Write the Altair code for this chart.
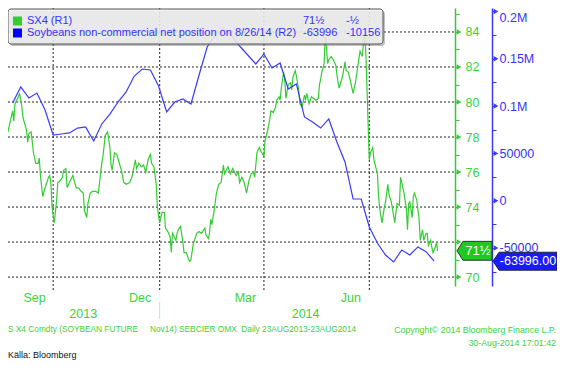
import altair as alt
import pandas as pd

# ---------------- data ----------------
green_dates = [
    "2013-08-23", "2013-08-27", "2013-08-28", "2013-08-29", "2013-09-01", "2013-09-02", "2013-09-04", "2013-09-05",
    "2013-09-08", "2013-09-09", "2013-09-10", "2013-09-12", "2013-09-14", "2013-09-16", "2013-09-18", "2013-09-19",
    "2013-09-20", "2013-09-22", "2013-09-24", "2013-09-27", "2013-09-28", "2013-09-29", "2013-09-30", "2013-10-02",
    "2013-10-04", "2013-10-05", "2013-10-07", "2013-10-09", "2013-10-10", "2013-10-12", "2013-10-13", "2013-10-15",
    "2013-10-18", "2013-10-20", "2013-10-21", "2013-10-23", "2013-10-25", "2013-10-27", "2013-10-28", "2013-10-30",
    "2013-10-31", "2013-11-02", "2013-11-04", "2013-11-07", "2013-11-09", "2013-11-12", "2013-11-13", "2013-11-15",
    "2013-11-17", "2013-11-19", "2013-11-20", "2013-11-21", "2013-11-23", "2013-11-25", "2013-11-28", "2013-11-29",
    "2013-12-01", "2013-12-03", "2013-12-06", "2013-12-08", "2013-12-11", "2013-12-12", "2013-12-14", "2013-12-16",
    "2013-12-18", "2013-12-20", "2013-12-22", "2013-12-24", "2013-12-25", "2013-12-27", "2013-12-29", "2013-12-30",
    "2014-01-01", "2014-01-03", "2014-01-05", "2014-01-06", "2014-01-08", "2014-01-10", "2014-01-11", "2014-01-12",
    "2014-01-15", "2014-01-16", "2014-01-17", "2014-01-19", "2014-01-21", "2014-01-22", "2014-01-24", "2014-01-26",
    "2014-01-27", "2014-01-28", "2014-01-30", "2014-02-01", "2014-02-02", "2014-02-04", "2014-02-06", "2014-02-09",
    "2014-02-10", "2014-02-12", "2014-02-13", "2014-02-14", "2014-02-15", "2014-02-17", "2014-02-19", "2014-02-21",
    "2014-02-23", "2014-02-25", "2014-02-26", "2014-03-01", "2014-03-03", "2014-03-05", "2014-03-08", "2014-03-10",
    "2014-03-11", "2014-03-13", "2014-03-15", "2014-03-17", "2014-03-19", "2014-03-21", "2014-03-23", "2014-03-24",
    "2014-03-26", "2014-03-28", "2014-03-30", "2014-04-01", "2014-04-02", "2014-04-04", "2014-04-06", "2014-04-07",
    "2014-04-09", "2014-04-11", "2014-04-12", "2014-04-14", "2014-04-15", "2014-04-16", "2014-04-18", "2014-04-19",
    "2014-04-20", "2014-04-22", "2014-04-24", "2014-04-25", "2014-04-26", "2014-04-28", "2014-04-29", "2014-04-30",
    "2014-05-01", "2014-05-02", "2014-05-04", "2014-05-06", "2014-05-07", "2014-05-08", "2014-05-10", "2014-05-12",
    "2014-05-14", "2014-05-16", "2014-05-18", "2014-05-19", "2014-05-20", "2014-05-21", "2014-05-23", "2014-05-24",
    "2014-05-26", "2014-05-27", "2014-05-29", "2014-05-31", "2014-06-02", "2014-06-04", "2014-06-05", "2014-06-08",
    "2014-06-10", "2014-06-11", "2014-06-13", "2014-06-15", "2014-06-17", "2014-06-19", "2014-06-21", "2014-06-23",
    "2014-06-25", "2014-06-26", "2014-06-27", "2014-06-28", "2014-07-01", "2014-07-02", "2014-07-04", "2014-07-05",
    "2014-07-08", "2014-07-09", "2014-07-10", "2014-07-12", "2014-07-14", "2014-07-15", "2014-07-17", "2014-07-18",
    "2014-07-20", "2014-07-23", "2014-07-24", "2014-07-25", "2014-07-27", "2014-07-28", "2014-07-29", "2014-07-31",
    "2014-08-02", "2014-08-03", "2014-08-04", "2014-08-05", "2014-08-07", "2014-08-08", "2014-08-09", "2014-08-11",
    "2014-08-13", "2014-08-14", "2014-08-16", "2014-08-17", "2014-08-19", "2014-08-20", "2014-08-21", "2014-08-23",
    "2014-08-24", "2014-08-25", "2014-08-27", "2014-08-28", "2014-08-29",
]
green_values = [
    78.3, 79.5, 78.9, 79.9, 80.3, 80.5, 79.7, 79.1,
    78.4, 77.7, 78.2, 78.3, 77.1, 76.5, 76.5, 76.8,
    75.8, 74.6, 75.1, 75.7, 75.8, 75.4, 74.0, 73.1,
    74.4, 75.4, 75.5, 75.7, 76.1, 76.2, 75.1, 75.4,
    75.8, 75.3, 75.1, 75.1, 74.9, 74.8, 73.8, 73.4,
    74.2, 74.8, 74.9, 74.9, 74.8, 76.5, 76.9, 78.1,
    78.3, 77.4, 76.4, 76.1, 77.1, 77.0, 76.3, 76.1,
    75.4, 75.3, 75.4, 75.7, 76.7, 76.2, 76.5, 76.3,
    76.4, 76.0, 76.7, 77.0, 76.5, 76.3, 75.3, 74.0,
    73.1, 73.7, 73.7, 72.8, 72.6, 72.3, 71.4, 72.5,
    72.1, 72.5, 72.7, 72.9, 72.0, 71.4, 71.4, 71.0,
    70.9, 71.0, 71.9, 72.3, 72.5, 72.6, 72.5, 72.8,
    72.4, 72.2, 72.5, 73.3, 73.0, 73.8, 74.8, 75.3,
    75.4, 76.4, 75.9, 76.3, 75.9, 76.2, 75.8, 76.0,
    75.4, 75.7, 75.4, 74.8, 75.5, 75.9, 76.0, 75.7,
    77.1, 77.4, 77.1, 76.9, 77.8, 78.3, 79.0, 79.5,
    79.4, 79.7, 80.1, 80.3, 80.1, 80.8, 81.7, 81.3,
    80.2, 81.0, 81.1, 80.7, 81.4, 81.8, 81.5, 81.1,
    80.7, 79.9, 79.7, 80.4, 80.1, 80.5, 79.9, 80.3,
    80.2, 80.1, 80.2, 81.0, 81.3, 81.7, 82.2, 84.0,
    82.2, 82.4, 82.6, 82.4, 82.1, 81.1, 80.8, 81.5,
    82.3, 81.8, 81.7, 81.1, 80.5, 81.1, 82.0, 82.9,
    82.6, 83.4, 83.9, 82.8, 76.7, 77.1, 77.4, 76.7,
    75.9, 74.6, 73.9, 73.1, 74.0, 74.3, 75.3, 74.7,
    74.3, 73.1, 73.7, 74.2, 74.1, 75.7, 75.4, 74.8,
    73.9, 72.7, 74.2, 74.3, 73.4, 74.6, 74.8, 74.4,
    73.3, 72.1, 72.7, 72.1, 72.5, 72.5, 71.8, 72.1,
    71.7, 71.4, 71.7, 72.0, 71.5,
]

blue_values = [
    103300, 120200, 108600, 113800, 95900, 69400, 70500, 71600, 76800, 77900,
    63100, 81100, 91600, 104300, 114900, 131800, 139200, 138200, 121200, 93800,
    104300, 107500, 102200, 132900, 162500, 175100, 182500, 174100, 163500, 154000,
    144500, 155100, 140300, 145600, 118100, 123400, 88500, 83200, 76800, 86400,
    62000, 40900, 1800, 1800, -27800, -44700, -57400, -64800, -52100, -57400,
    -48900, -53840, -63996,
]
# weekly CFTC report dates (Tuesdays), last one 8/26/14
blue_dates = pd.date_range(end="2014-08-26", periods=len(blue_values), freq="7D")

green_grid_values = [70, 72, 74, 76, 78, 80, 82, 84]
green_tick_values = list(range(70, 86))
blue_label_values = [-50000, 0, 50000, 100000, 150000, 200000]
blue_tick_values = list(range(-75000, 200001, 25000))
quarter_dates = ["2013-10-01", "2014-01-01", "2014-04-01", "2014-07-01"]
month_tick_dates = ["2013-09-01", "2013-10-01", "2013-11-01", "2013-12-01", "2014-01-01", "2014-02-01",
                    "2014-03-01", "2014-04-01", "2014-05-01", "2014-06-01", "2014-07-01", "2014-08-01",
                    "2014-09-01"]
month_label_dates = ["2013-09-15", "2013-12-15", "2014-03-16", "2014-06-15"]
month_labels = ["Sep", "Dec", "Mar", "Jun"]
year_label_dates = ["2013-10-27", "2014-05-07"]
year_labels = ["2013", "2014"]

legend_labels = ["SX4 (R1)", "Soybeans non-commercial net position on 8/26/14 (R2)"]
legend_last = ["71½", "-63996"]
legend_change = ["-½", "-10156"]
green_last_label = "71½"
blue_last_label = "-63996.00"

footer_left_a = "S X4 Comdty (SOYBEAN FUTURE"
footer_left_b = "Nov14) SEBCIER OMX\u00a0\u00a0Daily 23AUG2013-23AUG2014"
footer_right1 = "Copyright© 2014 Bloomberg Finance L.P."
footer_right2 = "30-Aug-2014 17:01:42"
source_text = "Källa: Bloomberg"

# ---------------- styling ----------------
GREEN = "#33cc33"
GREEN_TXT = "#3ad23a"
BLUE = "#3a3aff"
BLUE_TXT = "#3333ff"
FONT = "Liberation Sans"
W, H = 447, 278

def dt(s):
    y, m, d = (int(p) for p in s.split("-"))
    return alt.DateTime(year=y, month=m, date=d)

xscale = alt.Scale(domain=[dt("2013-08-23"), dt("2014-09-13")])
gscale = alt.Scale(domain=[69.49, 85.37], nice=False, zero=False)
bscale = alt.Scale(domain=[-90200, 203700], nice=False, zero=False)

green_df = pd.DataFrame({"date": pd.to_datetime(green_dates), "v": green_values})
blue_df = pd.DataFrame({"date": blue_dates, "v": blue_values})

hgrid = alt.Chart(pd.DataFrame({"g": green_grid_values})).mark_rule(
    color="#222", strokeDash=[2, 2], strokeWidth=1
).encode(y=alt.Y("g:Q", scale=gscale, axis=None), x=alt.value(0), x2=alt.value(W))

vgrid = alt.Chart(pd.DataFrame({"d": pd.to_datetime(quarter_dates)})).mark_rule(
    color="#222", strokeDash=[2, 2], strokeWidth=1
).encode(x=alt.X("d:T", scale=xscale, axis=None), y=alt.value(0), y2=alt.value(H + 4))

green_line = alt.Chart(green_df).mark_line(color=GREEN, strokeWidth=1.2).encode(
    x=alt.X("date:T", scale=xscale, title=None,
            axis=alt.Axis(values=[dt(s) for s in month_tick_dates], labels=False, tickSize=4,
                          tickColor=GREEN, domainColor=GREEN, grid=False, domainWidth=1.5)),
    y=alt.Y("v:Q", scale=gscale, title=None,
            axis=alt.Axis(orient="right", values=green_tick_values,
                          labelExpr="(datum.value % 2 == 0 && datum.value != 72) ? datum.label : ''",
                          tickSize=4, tickColor=GREEN, domainColor=GREEN, domainWidth=1.5,
                          labelColor=GREEN_TXT, labelFont=FONT, labelFontSize=12.5, labelPadding=6,
                          grid=False)),
)

blue_line = alt.Chart(blue_df).mark_line(color=BLUE, strokeWidth=1.2).encode(
    x=alt.X("date:T", scale=xscale, axis=None),
    y=alt.Y("v:Q", scale=bscale, title=None,
            axis=alt.Axis(orient="right", offset=37, values=blue_tick_values,
                          labelExpr="datum.value % 50000 != 0 ? '' : (datum.value >= 100000 ? format(datum.value/1000000, '.2~f') + 'M' : '' + datum.value)",
                          tickSize=4, tickColor=BLUE, domainColor=BLUE, domainWidth=1.5,
                          labelColor=BLUE_TXT, labelFont=FONT, labelFontSize=12.5, labelPadding=3,
                          labelFlush=10, labelFlushOffset=0,
                          grid=False)),
)

g_tri = alt.Chart(pd.DataFrame({"g": green_grid_values})).mark_point(
    shape="triangle-right", filled=True, size=30, color=GREEN, opacity=1
).encode(y=alt.Y("g:Q", scale=gscale, axis=None), x=alt.value(W + 4))

b_tri = alt.Chart(pd.DataFrame({"b": blue_label_values})).mark_point(
    shape="triangle-right", filled=True, size=30, color=BLUE, opacity=1
).encode(y=alt.Y("b:Q", scale=bscale, axis=None), x=alt.value(W + 41))

g_tag_shape = "M-1,0 L-0.66,-0.54 L1,-0.54 L1,0.54 L-0.66,0.54 Z"
b_tag_shape = "M-1,0 L-0.81,-0.28 L1,-0.28 L1,0.28 L-0.81,0.28 Z"

g_tag = alt.Chart(pd.DataFrame({"v": [green_values[-1]], "t": [green_last_label]}))
g_tag_box = g_tag.mark_point(shape=g_tag_shape, size=1225, filled=True, fill="#22c822",
                             stroke="#333", strokeWidth=1, opacity=1).encode(
    y=alt.Y("v:Q", scale=gscale, axis=None), x=alt.value(W + 19.5))
g_tag_txt = g_tag.mark_text(color="white", font=FONT, fontSize=13, align="center", baseline="middle").encode(
    y=alt.Y("v:Q", scale=gscale, axis=None), x=alt.value(W + 23), text="t:N")

b_tag = alt.Chart(pd.DataFrame({"v": [blue_values[-1]], "t": [blue_last_label]}))
b_tag_box = b_tag.mark_point(shape=b_tag_shape, size=4096, filled=True, fill="#1a1aff",
                             stroke="#222", strokeWidth=1, opacity=1).encode(
    y=alt.Y("v:Q", scale=bscale, axis=None), x=alt.value(W + 70))
b_tag_txt = b_tag.mark_text(color="white", font=FONT, fontSize=12.5, align="center", baseline="middle").encode(
    y=alt.Y("v:Q", scale=bscale, axis=None), x=alt.value(W + 73), text="t:N")

# legend box
leg_one = alt.Chart(pd.DataFrame({"t": [legend_labels[0]]}))
leg_shadow = leg_one.mark_rect(fill="#777", opacity=0.45, cornerRadius=3).encode(
    x=alt.value(2), x2=alt.value(377), y=alt.value(3), y2=alt.value(38))
leg_box = leg_one.mark_rect(fill="#f0f0f0", fillOpacity=0.85, stroke="#555", strokeWidth=1,
                            cornerRadius=3).encode(
    x=alt.value(0), x2=alt.value(375), y=alt.value(1), y2=alt.value(36))

leg_df = pd.DataFrame({"row": [0, 1], "label": legend_labels, "color": [GREEN, "#0000ff"],
                       "last": legend_last, "chg": legend_change})
rowscale = alt.Scale(domain=[0, 1], range=[13, 25])
leg_base = alt.Chart(leg_df)
leg_sq = leg_base.mark_square(size=81, opacity=1, filled=True).encode(
    x=alt.value(9.5), y=alt.Y("row:Q", scale=rowscale, axis=None), color=alt.Color("color:N", scale=None))
leg_txt = leg_base.mark_text(align="left", baseline="middle", font=FONT, fontSize=11, color=BLUE_TXT).encode(
    x=alt.value(19), y=alt.Y("row:Q", scale=rowscale, axis=None), text="label:N")
leg_last = leg_base.mark_text(align="left", baseline="middle", font=FONT, fontSize=11, color=BLUE_TXT).encode(
    x=alt.value(295), y=alt.Y("row:Q", scale=rowscale, axis=None), text="last:N")
leg_chg = leg_base.mark_text(align="left", baseline="middle", font=FONT, fontSize=11, color=BLUE_TXT).encode(
    x=alt.value(338), y=alt.Y("row:Q", scale=rowscale, axis=None), text="chg:N")

# bottom labels
months = alt.Chart(pd.DataFrame({"d": pd.to_datetime(month_label_dates), "t": month_labels})).mark_text(
    font=FONT, fontSize=12.5, color=GREEN_TXT, baseline="middle").encode(
    x=alt.X("d:T", scale=xscale, axis=None), y=alt.value(290), text="t:N")
years = alt.Chart(pd.DataFrame({"d": pd.to_datetime(year_label_dates), "t": year_labels})).mark_text(
    font=FONT, fontSize=12.5, color=GREEN_TXT, baseline="middle").encode(
    x=alt.X("d:T", scale=xscale, axis=None), y=alt.value(306), text="t:N")
year_sep = alt.Chart(pd.DataFrame({"d": pd.to_datetime(["2014-01-01"])})).mark_rule(
    color="#b8e8b8", strokeWidth=1).encode(
    x=alt.X("d:T", scale=xscale, axis=None), y=alt.value(294), y2=alt.value(311))

def txt(s, x, y, **kw):
    return alt.Chart(pd.DataFrame({"t": [s]})).mark_text(baseline="middle", **kw).encode(
        text="t:N", x=alt.value(x), y=alt.value(y))

foot1a = txt(footer_left_a, 0, 322, align="left", font=FONT, fontSize=8.3, color=GREEN_TXT)
foot1b = txt(footer_left_b, 142, 322, align="left", font=FONT, fontSize=8.3, color=GREEN_TXT)
foot2 = txt(footer_right1, 548, 322, align="right", font=FONT, fontSize=8.8, color=GREEN_TXT)
foot3 = txt(footer_right2, 548, 335, align="right", font=FONT, fontSize=8.8, color=GREEN_TXT)
src = txt(source_text, 0, 347, align="left", font=FONT, fontSize=9, color="#111")

chart = alt.layer(
    hgrid, vgrid, green_line, blue_line, g_tri, b_tri,
    g_tag_box, g_tag_txt, b_tag_box, b_tag_txt,
    leg_shadow, leg_box, leg_sq, leg_txt, leg_last, leg_chg,
    months, years, year_sep, foot1a, foot1b, foot2, foot3, src,
).resolve_scale(y="independent").properties(
    width=W, height=H,
    autosize=alt.AutoSizeParams(type="none"),
    padding={"left": 0, "top": 0, "right": 102, "bottom": 74},
    background="white",
).configure_view(stroke=None)

chart.save("out.html", embed_options={"renderer": "svg", "actions": False})
